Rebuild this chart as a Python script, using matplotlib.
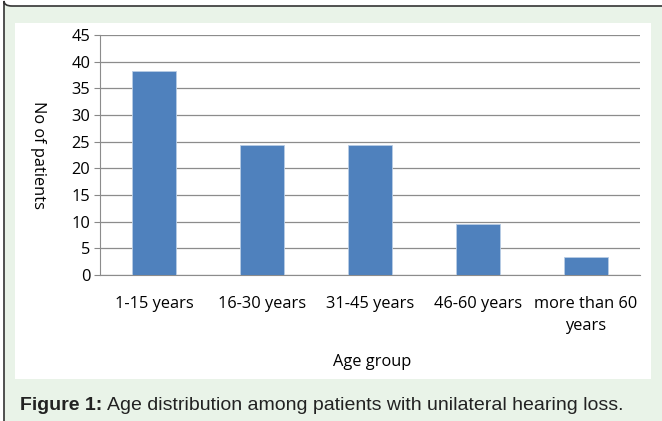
import matplotlib.pyplot as plt
from matplotlib.patches import FancyBboxPatch, Rectangle

categories = ['1-15 years', '16-30 years', '31-45 years', '46-60 years', 'more than 60\nyears']
patients = [38.3, 24.3, 24.3, 9.6, 3.4]
yticks = list(range(0, 50, 5))

W, H = 662, 421
fig = plt.figure(figsize=(W / 100, H / 100), dpi=100)
fig.patch.set_facecolor('white')

# green panel with rounded dark border, running off the right/bottom edges
panel = FancyBboxPatch((4 / W, 1 - 6 / H), 700 / W, -460 / H,
                       boxstyle='round,pad=0,rounding_size=0.012',
                       transform=fig.transFigure, facecolor='#e9f3e8',
                       edgecolor='#333333', linewidth=1.2, zorder=0)
fig.patches.append(panel)
# white chart area
fig.patches.append(Rectangle((15 / W, 1 - 379 / H), 636 / W, 356 / H,
                             transform=fig.transFigure, facecolor='white',
                             edgecolor='none', zorder=1))

ax = fig.add_axes([100 / W, 1 - 275 / H, 540 / W, 240 / H])
ax.set_zorder(2)
ax.patch.set_alpha(0)

x = range(len(categories))
ax.bar(x, patients, width=0.4, color='#4f81bd', edgecolor='#b9cde5',
       linewidth=0.6, zorder=3)

ax.set_ylim(0, 45)
ax.set_xlim(-0.5, len(categories) - 0.5)
ax.set_yticks(yticks)
ax.set_xticks(list(x))
ax.set_xticklabels(categories, fontsize=11.8, family='Open Sans', linespacing=1.55)
ax.tick_params(axis='y', labelsize=11.8, length=4, color='#888888', pad=3)
ax.tick_params(axis='x', length=0, pad=15)
for lab in ax.get_yticklabels():
    lab.set_family('Open Sans')

ax.grid(axis='y', color='#8c8c8c', linewidth=0.9, zorder=0)
ax.set_axisbelow(True)
for s in ['top', 'right']:
    ax.spines[s].set_visible(False)
ax.spines['left'].set_color('#8c8c8c')
ax.spines['bottom'].set_color('#8c8c8c')

fig.text(38 / W, 1 - 155 / H, 'No of patients', fontsize=11.8, family='Open Sans',
         rotation=270, ha='center', va='center', zorder=5)
fig.text(372 / W, 1 - 362 / H, 'Age group', fontsize=11.8, family='Open Sans',
         ha='center', va='center', zorder=5)

cap_y = 1 - 406 / H
t1 = fig.text(20 / W, cap_y, 'Figure 1:', fontsize=14, fontweight='bold',
              family='Liberation Sans', color='#222222', va='center', zorder=5)
fig.canvas.draw()
bb = t1.get_window_extent()
fig.text((bb.x1 + 5) / W, cap_y, 'Age distribution among patients with unilateral hearing loss.',
         fontsize=14, family='Liberation Sans', color='#222222', va='center', zorder=5)

fig.savefig('out.png', dpi=100)
